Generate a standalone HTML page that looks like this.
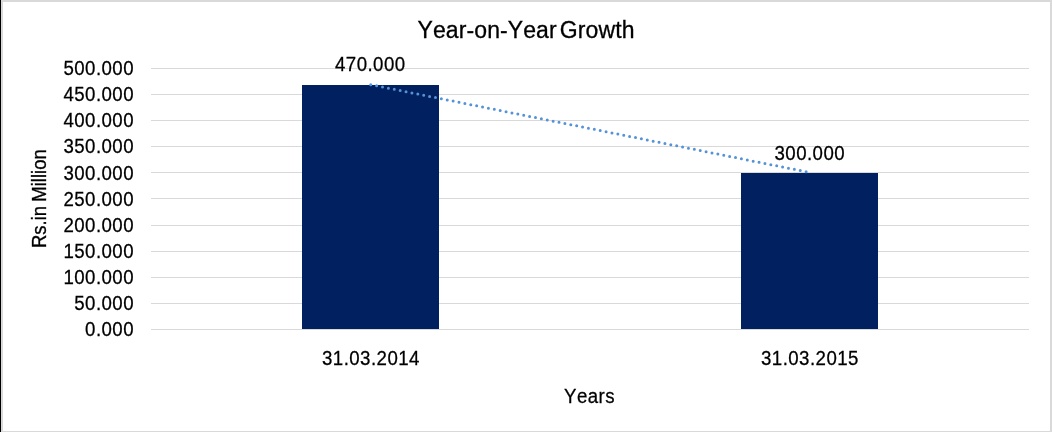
<!DOCTYPE html>
<html>
<head>
<meta charset="utf-8">
<style>
html,body{margin:0;padding:0;background:#fff;}
body{width:1052px;height:432px;position:relative;overflow:hidden;font-family:"Liberation Sans",sans-serif;color:#000;}
.t{position:absolute;white-space:pre;line-height:20px;font-size:19.5px;font-kerning:none;filter:grayscale(1);-webkit-text-stroke:0.3px #000;}
.v{font-size:18.67px;letter-spacing:0.45px;-webkit-text-stroke:0.25px #000;transform:scaleY(1.05);transform-origin:0 10px;margin-top:1px;}
svg{position:absolute;left:0;top:0;}
.yl{right:918px;text-align:right;}
</style>
</head>
<body>
<svg width="1052" height="432" viewBox="0 0 1052 432">
  <!-- frame -->
  <rect x="0" y="0" width="1052" height="432" fill="#fff"/>
  <rect x="0" y="0" width="1052" height="2" fill="#d9d9d9"/>
  <rect x="0" y="431" width="1052" height="1" fill="#d9d9d9"/>
  <rect x="1050" y="0" width="2" height="432" fill="#d9d9d9"/>
  <rect x="1" y="0" width="1" height="432" fill="#d9d9d9"/>
  <rect x="2" y="0" width="1" height="432" fill="#d9d9d9"/>
  <rect x="0" y="0" width="1" height="432" fill="#000"/>
  <!-- gridlines -->
  <g fill="#d9d9d9" shape-rendering="crispEdges">
    <rect x="151" y="68" width="878" height="1"/>
    <rect x="151" y="94" width="878" height="1"/>
    <rect x="151" y="120" width="878" height="1"/>
    <rect x="151" y="146" width="878" height="1"/>
    <rect x="151" y="172" width="878" height="1"/>
    <rect x="151" y="198" width="878" height="1"/>
    <rect x="151" y="225" width="878" height="1"/>
    <rect x="151" y="251" width="878" height="1"/>
    <rect x="151" y="277" width="878" height="1"/>
    <rect x="151" y="303" width="878" height="1"/>
    <rect x="151" y="329" width="878" height="1"/>
  </g>
  <!-- bars -->
  <g shape-rendering="crispEdges">
    <rect x="302" y="85" width="137" height="244" fill="#002060"/>
    <rect x="741" y="173" width="137" height="156" fill="#002060"/>
  </g>
  <!-- trendline -->
  <line x1="370.5" y1="84.6" x2="809.5" y2="172.4" stroke="#5592d6" stroke-width="3" stroke-linecap="round" stroke-dasharray="0 6" stroke-dashoffset="-0.25"/>
</svg>

<div class="t" style="left:417.5px;top:17.5px;letter-spacing:0.1px;font-size:23px;line-height:24px;">Year-on-Year</div>
<div class="t" style="left:559.8px;top:17.5px;letter-spacing:0.1px;font-size:23px;line-height:24px;">Growth</div>

<div class="t v yl" style="top:58px;">500.000</div>
<div class="t v yl" style="top:84px;">450.000</div>
<div class="t v yl" style="top:110px;">400.000</div>
<div class="t v yl" style="top:136px;">350.000</div>
<div class="t v yl" style="top:163px;">300.000</div>
<div class="t v yl" style="top:189px;">250.000</div>
<div class="t v yl" style="top:215px;">200.000</div>
<div class="t v yl" style="top:241px;">150.000</div>
<div class="t v yl" style="top:267px;">100.000</div>
<div class="t v yl" style="top:293px;">50.000</div>
<div class="t v yl" style="top:319px;">0.000</div>

<div class="t v" style="left:335px;top:54px;">470.000</div>
<div class="t v" style="left:774.5px;top:143px;">300.000</div>

<div class="t v" style="left:322px;top:348px;">31.03.2014</div>
<div class="t v" style="left:761px;top:348px;">31.03.2015</div>

<div class="t v" style="left:564px;top:386px;">Years</div>

<div class="t" style="left:-11px;top:187px;transform:rotate(-90deg) scaleY(1.07);transform-origin:50% 50%;width:102px;font-size:18.5px;word-spacing:-1px;">Rs.in Million</div>
</body>
</html>
